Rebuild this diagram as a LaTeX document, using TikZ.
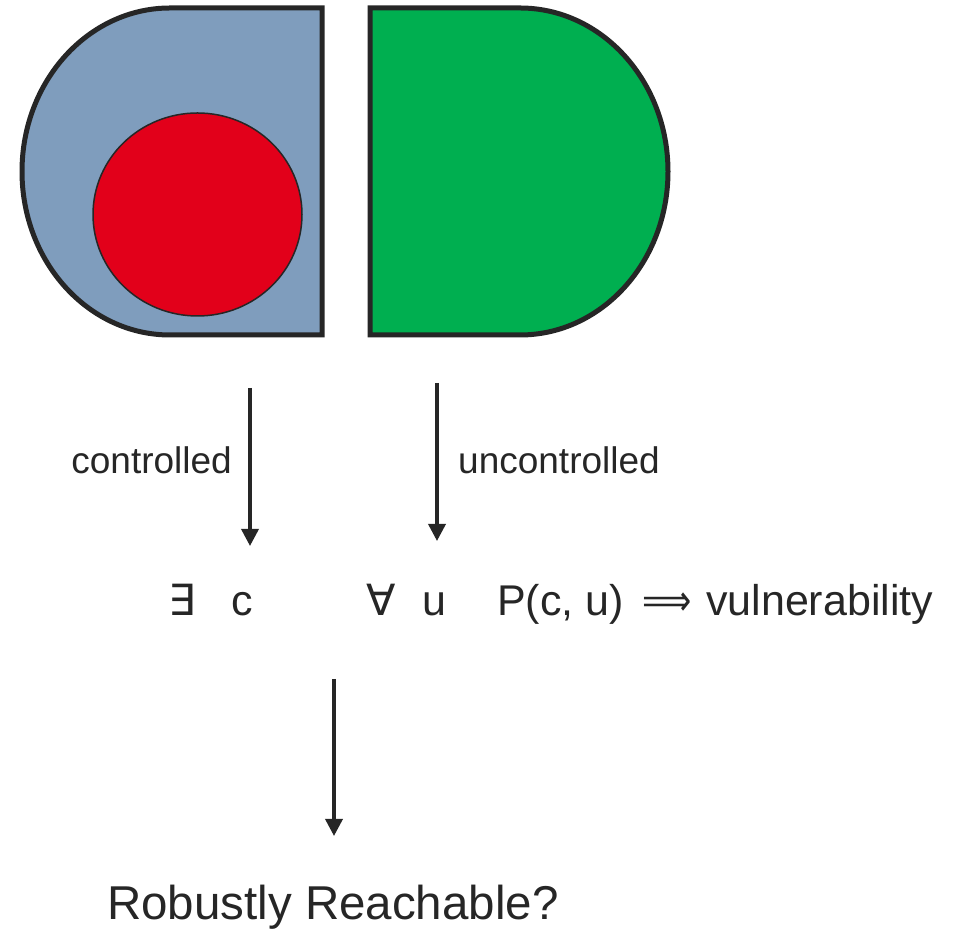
\documentclass[tikz,border=0pt]{standalone}
\usepackage{fontspec}
\setmainfont{Liberation Sans}
\newfontfamily\dejavu{DejaVu Sans}
\usetikzlibrary{arrows.meta}
\definecolor{ink}{HTML}{262626}
\definecolor{bluegray}{HTML}{7F9DBD}
\definecolor{redfill}{HTML}{E2001A}
\definecolor{greenfill}{HTML}{00AF50}
\begin{document}
\begin{tikzpicture}[x=1pt,y=1pt,
  blob/.style={draw=ink,line width=5pt,line join=miter},
  flow/.style={draw=ink,line width=3.5pt,-{Triangle[width=17pt,length=17pt]}},
  lbl/.style={inner sep=0pt,text=ink,font=\fontsize{37}{40}\selectfont},
  row/.style={inner sep=0pt,text=ink,font=\fontsize{43}{46}\selectfont},
  big/.style={inner sep=0pt,text=ink,font=\fontsize{47.5}{50}\selectfont}]
\useasboundingbox (0,0) rectangle (956,931);
% left controlled set
\path[blob,fill=bluegray] (322,923) -- (170,923)
  arc[start angle=90,end angle=270,x radius=148,y radius=163.5]
  -- (322,596) -- cycle;
\path[draw=ink,line width=1.5pt,fill=redfill] (197.5,716.5) ellipse[x radius=104.5,y radius=101.5];
% right uncontrolled set
\path[blob,fill=greenfill] (370,923) -- (520,923)
  arc[start angle=90,end angle=-90,x radius=148,y radius=163.5]
  -- (370,596) -- cycle;
% arrow endpoints
\coordinate (a1s) at (250,543);
\coordinate (a1e) at (250,385);
\coordinate (a2s) at (437,548);
\coordinate (a2e) at (437,390);
\coordinate (a3s) at (334,252);
\coordinate (a3e) at (334,95);
\draw[flow] (a1s) -- (a1e);
\draw[flow] (a2s) -- (a2e);
\draw[flow] (a3s) -- (a3e);
% labels
\node[lbl,anchor=base east] (ctl) at (232,457) {controlled};
\node[lbl,anchor=base west] (unc) at (458,457) {uncontrolled};
\node[row,anchor=base] (ex) at (182,315) {\dejavu ∃};
\node[row,anchor=base] (c) at (242,315) {c};
\node[row,anchor=base] (fa) at (381,315) {\dejavu ∀};
\node[row,anchor=base] (u) at (434,315) {u};
\node[row,anchor=base west] (pred) at (497,315) {P(c, u)};
\node[row,anchor=base] (impl) at (667,315) {\scalebox{0.8}[1]{\dejavu ⟹}};
\node[row,anchor=base west] (vul) at (706,315) {vulnerability};
\node[big,anchor=base west] (rr) at (107,11) {Robustly Reachable?};
\end{tikzpicture}
\end{document}
